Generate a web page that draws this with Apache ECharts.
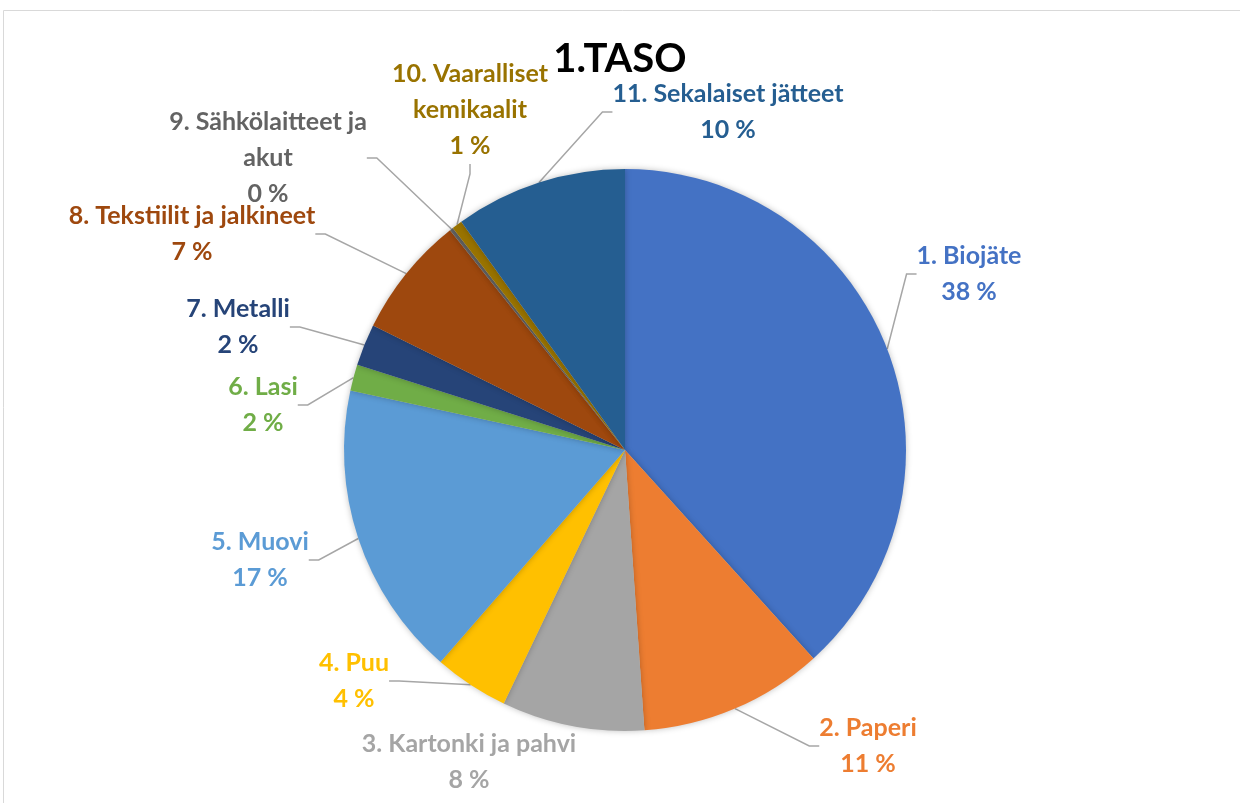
<!DOCTYPE html>
<html>
<head>
<meta charset="utf-8">
<script src="https://cdn.jsdelivr.net/npm/echarts@6/dist/echarts.min.js"></script>
<style>
html,body{margin:0;padding:0;background:#fff;}
#c{width:1240px;height:803px;}
</style>
</head>
<body>
<div id="c"></div>
<script>
// Data
const categories = [
  '1. Biojäte',
  '2. Paperi',
  '3. Kartonki ja pahvi',
  '4. Puu',
  '5. Muovi',
  '6. Lasi',
  '7. Metalli',
  '8. Tekstiilit ja jalkineet',
  '9. Sähkölaitteet ja\nakut',
  '10. Vaaralliset\nkemikaalit',
  '11. Sekalaiset jätteet'
];
const values = [38.3, 10.6, 8.2, 4.3, 17.0, 1.5, 2.4, 7.0, 0.2, 0.6, 9.9];
const colors = ['#4472C4','#ED7D31','#A5A5A5','#FFC000','#5B9BD5','#70AD47','#264478','#9E480E','#636363','#997300','#255E91'];
// label centre positions (layout)
const labelPos = [
  [969, 274], [868, 746], [469, 762], [354, 681], [260, 560], [263, 405],
  [238, 327], [192, 234], [268, 158], [470, 110], [728, 112]
];
const showLine = [true, true, false, true, true, true, true, true, true, true, true];

const chart = echarts.init(document.getElementById('c'), null, {renderer:'canvas'});
const font = 'Lato, "Open Sans", sans-serif';
chart.setOption({
  animation: false,
  title: {
    text: '1.TASO', left: 'center', top: 34,
    textStyle: {fontFamily: font, fontSize: 40, fontWeight: 'bold', color: '#000'}
  },
  graphic: [{
    type: 'rect', shape: {x: 3.5, y: 10.5, width: 1300, height: 900},
    style: {fill: 'none', stroke: '#D9D9D9', lineWidth: 1}, silent: true, z: -1
  }],
  series: [{
    type: 'pie',
    center: [625, 450],
    radius: 281,
    startAngle: 90,
    clockwise: true,
    avoidLabelOverlap: false,
    itemStyle: {borderWidth: 0, shadowBlur: 6, shadowColor: 'rgba(0,0,0,0.25)'},
    label: {
      show: true,
      position: 'outside',
      fontFamily: font,
      fontSize: 25,
      fontWeight: 'bold',
      lineHeight: 36,
      align: 'center',
      formatter: p => p.name + '\n' + Math.round(p.percent) + ' %'
    },
    labelLine: {show: true, length: 12, length2: 10, smooth: false, lineStyle: {color: '#A6A6A6', width: 1.5}},
    labelLayout: function (params) {
      const pos = labelPos[params.dataIndex];
      return {x: pos[0], y: pos[1], align: 'center', verticalAlign: 'middle'};
    },
    data: categories.map((c, i) => ({
      name: c, value: values[i],
      itemStyle: {color: colors[i]},
      label: {color: colors[i]},
      labelLine: {show: showLine[i]}
    }))
  }]
});
</script>
</body>
</html>
